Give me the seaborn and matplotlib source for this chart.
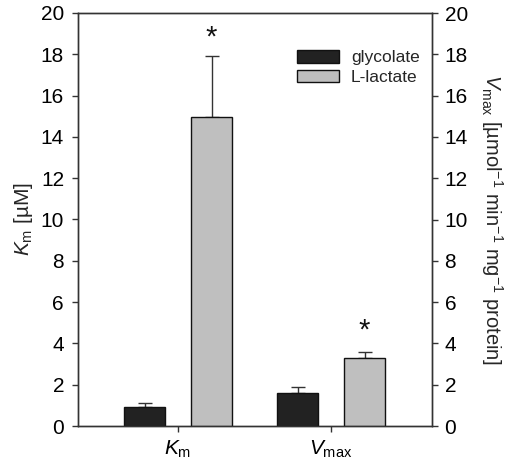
import matplotlib
matplotlib.use("Agg")
import matplotlib.pyplot as plt
import seaborn as sns
import pandas as pd
import numpy as np

params = ["Km", "Vmax"]
substrates = ["glycolate", "L-lactate"]
glycolate_vals = [0.9, 1.6]
glycolate_err = [0.2, 0.27]
lactate_vals = [14.95, 3.3]
lactate_err = [2.95, 0.3]
xtick_labels = [r"$\mathit{K}_{\mathrm{m}}$", r"$\mathit{V}_{\mathrm{max}}$"]
yticks = [0, 2, 4, 6, 8, 10, 12, 14, 16, 18, 20]
star_y = [18.8, 4.6]

sns.set_style("ticks")
plt.rcParams["font.family"] = ["Liberation Sans", "DejaVu Sans"]
plt.rcParams["mathtext.fontset"] = "custom"
plt.rcParams["mathtext.rm"] = "Liberation Sans"
plt.rcParams["mathtext.it"] = "Liberation Sans:italic"

df = pd.DataFrame({
    "param": params * 2,
    "substrate": [substrates[0]] * 2 + [substrates[1]] * 2,
    "value": glycolate_vals + lactate_vals,
    "err": glycolate_err + lactate_err,
})

fig = plt.figure(figsize=(5.10, 4.69), dpi=100)
ax = fig.add_axes([78/510, 1 - 426/469, (432-78)/510, (426-13)/469])
colors = ["#222222", "#bfbfbf"]
sns.barplot(data=df, x="param", y="value", hue="substrate", hue_order=substrates,
            order=params, palette=colors, width=0.876, gap=0.388,
            errorbar=None, edgecolor="#111111", linewidth=1.0, ax=ax, zorder=3)

# error bars (upper only)
bars = [p for p in ax.patches if p.get_height() > 0][:4]
for p in bars:
    cx = p.get_x() + p.get_width() / 2
    h = p.get_height()
    row = df[np.isclose(df["value"], h)].iloc[0]
    ax.errorbar(cx, h, yerr=[[0], [row["err"]]], color="#333333", capsize=5,
                elinewidth=1.0, capthick=1.0, zorder=2)

# asterisks above lactate bars
for i, p in enumerate(params):
    lac_bar = [b for b in bars if np.isclose(b.get_height(), lactate_vals[i])][0]
    cx = lac_bar.get_x() + lac_bar.get_width() / 2
    ax.text(cx, star_y[i], "*", ha="center", va="center", fontsize=21, color="#111111")

ax.set_xlim(-0.654, 1.66)
ax.set_ylim(0, 20)
ax.set_yticks(yticks)
ax.set_xticks([0, 1])
ax.set_xticklabels(xtick_labels, fontsize=15)
ax.tick_params(axis="y", labelsize=15, direction="out", length=4, width=1, pad=6,
               colors="#333333", labelcolor="black")
ax.tick_params(axis="x", direction="out", length=4, width=1, pad=5,
               colors="#333333", labelcolor="black")
ax.set_xlabel("")
ax.set_ylabel(r"$\mathit{K}_{\mathrm{m}}$ [µM]", fontsize=15, labelpad=4)
for s in ax.spines.values():
    s.set_visible(True)
    s.set_color("#333333")
    s.set_linewidth(1.0)

ax2 = ax.twinx()
ax2.set_ylim(0, 20)
ax2.set_yticks(yticks)
ax2.tick_params(axis="y", labelsize=15, direction="out", length=4, width=1, pad=5,
                colors="#333333", labelcolor="black")
ax2.set_ylabel(r"$\mathit{V}_{\mathrm{max}}$ [µmol$^{-1}$ min$^{-1}$ mg$^{-1}$ protein]",
               fontsize=14.5, rotation=270, labelpad=27)
for s in ax2.spines.values():
    s.set_color("#333333")
    s.set_linewidth(1.0)

leg = ax.legend(loc="upper right", bbox_to_anchor=(1.0, 0.94), frameon=False, fontsize=12.5,
                handlelength=2.4, handleheight=0.75, handletextpad=0.7, labelspacing=0.25,
                borderaxespad=0.3)
leg.set_title(None)

fig.savefig("out.png", dpi=100)
